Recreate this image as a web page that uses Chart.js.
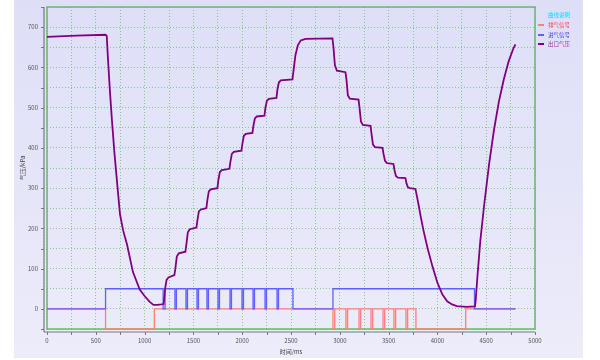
<!DOCTYPE html>
<html><head><meta charset="utf-8">
<script src="https://cdn.jsdelivr.net/npm/chart.js@4/dist/chart.umd.min.js"></script>
<style>
html,body{margin:0;padding:0;background:#fff;width:600px;height:360px;overflow:hidden}
#wrap{position:absolute;left:14px;top:0;width:569px;height:358px}
</style></head><body>
<div id="wrap"><canvas id="c" width="569" height="358"></canvas></div>
<script>
// ---- data ----
const seriesNames = ['排气信号', '进气信号', '出口气压'];
const legendTitle = '曲线说明';
const xTitle = '时间/ms';
const yTitle = '气压/kPa';

const pressT = [0, 300, 600, 612, 625, 645, 665, 690, 727, 748, 780, 820, 880, 950, 1000, 1050, 1090, 1130, 1170, 1195,
  1210, 1225, 1245, 1305,
  1315, 1330, 1350, 1418,
  1428, 1443, 1463, 1531,
  1541, 1556, 1576, 1633,
  1643, 1658, 1678, 1746,
  1756, 1771, 1791, 1869,
  1879, 1894, 1914, 1992,
  2002, 2017, 2037, 2105,
  2115, 2130, 2150, 2228,
  2238, 2253, 2273, 2351,
  2361, 2376, 2396, 2515,
  2525, 2545, 2570, 2600, 2650, 2925,
  2935, 2950, 2970, 3058,
  3068, 3083, 3103, 3192,
  3202, 3217, 3237, 3315,
  3325, 3340, 3360, 3438,
  3448, 3463, 3483, 3550,
  3560, 3575, 3595, 3673,
  3683, 3698, 3718, 3775,
  3790, 3810, 3830, 3860, 3900, 3950, 4000, 4050, 4100, 4150, 4200, 4300, 4385,
  4392, 4410, 4440, 4480, 4530, 4580, 4630, 4680, 4730, 4780, 4800];
const pressV = [676, 679, 681, 678, 620, 540, 470, 390, 290, 235, 195, 160, 92, 48, 32, 18, 10, 10, 11, 12,
  50, 72, 78, 84,
  100, 130, 138, 142,
  160, 190, 198, 202,
  220, 242, 247, 250,
  270, 292, 297, 300,
  320, 340, 345, 348,
  365, 385, 390, 393,
  410, 430, 435, 437,
  455, 473, 478, 480,
  500, 517, 522, 524,
  545, 563, 568, 570,
  590, 630, 655, 667, 671, 672,
  650, 605, 592, 588,
  570, 530, 522, 520,
  500, 465, 457, 455,
  435, 408, 402, 400,
  385, 368, 362, 360,
  345, 330, 326, 325,
  312, 302, 300, 298,
  280, 255, 228, 192, 150, 105, 65, 36, 19, 11, 7, 5, 6,
  20, 80, 170, 260, 360, 445, 515, 570, 615, 648, 657];

const intakeT = [0, 600, 1190, 1210, 1311, 1326, 1424, 1439, 1537, 1552, 1639, 1654, 1752, 1767, 1875, 1890,
  1998, 2013, 2111, 2126, 2234, 2249, 2357, 2372, 2520, 2930, 4380, 4800];
const intakeV = [0, 50, 0, 50, 0, 50, 0, 50, 0, 50, 0, 50, 0, 50, 0, 50,
  0, 50, 0, 50, 0, 50, 0, 50, 0, 50, 0, 0];

const exhaustT = [0, 600, 1100, 2930, 2948, 3063, 3080, 3197, 3214, 3320, 3337, 3443, 3460, 3555, 3572, 3678, 3695, 3780, 4290, 4800];
const exhaustV = [0, -50, 0, -50, 0, -50, 0, -50, 0, -50, 0, -50, 0, -50, 0, -50, 0, -50, 0, 0];

const xMin = 0, xMax = 5000, xStep = 250, xLabelStep = 500;
const yMin = -50, yMax = 750, yStep = 50, yLabelStep = 100;

// ---- build ----
const pts = (t, v) => t.map((x, i) => ({x, y: v[i]}));
const FONT = '"Noto Sans CJK SC", "Noto Sans", sans-serif';
const colors = ['rgb(255,125,125)', 'rgb(95,95,255)', 'rgb(128,0,128)'];

const bgPlugin = {
  id: 'bg',
  beforeDraw(chart) {
    const {ctx, width, height} = chart;
    const g = ctx.createLinearGradient(0, 0, 0, height);
    g.addColorStop(0, 'rgb(222,222,248)');
    g.addColorStop(1, 'rgb(236,236,250)');
    ctx.save(); ctx.fillStyle = g; ctx.fillRect(0, 0, width, height); ctx.restore();
  },
  beforeDatasetsDraw(chart) {
    const {ctx, chartArea: a, scales} = chart;
    ctx.save();
    ctx.strokeStyle = 'rgb(100,188,100)'; ctx.lineWidth = 1.5;
    ctx.strokeRect(a.left, a.top, a.right - a.left, a.bottom - a.top);
    ctx.strokeStyle = 'rgb(120,120,130)'; ctx.lineWidth = 1.2;
    ctx.beginPath();
    ctx.moveTo(a.left - 3, a.top); ctx.lineTo(a.left - 3, a.bottom + 3);
    ctx.moveTo(a.left - 3, a.bottom + 3); ctx.lineTo(a.right, a.bottom + 3);
    ctx.stroke();
    ctx.lineWidth = 1;
    ctx.beginPath();
    scales.y.ticks.forEach(t => { const y = Math.round(scales.y.getPixelForValue(t.value)) + 0.5; ctx.moveTo(a.left - 6, y); ctx.lineTo(a.left - 3, y); });
    scales.x.ticks.forEach(t => { const x = Math.round(scales.x.getPixelForValue(t.value)) + 0.5; ctx.moveTo(x, a.bottom + 3); ctx.lineTo(x, a.bottom + 6); });
    ctx.stroke();
    ctx.restore();
  },
  afterDraw(chart) {
    const {ctx} = chart;
    ctx.save();
    ctx.font = '5.5px ' + FONT;
    ctx.textBaseline = 'middle';
    ctx.fillStyle = 'rgb(0,225,250)';
    ctx.fillText(legendTitle, 534, 15);
    const ys = [25, 35, 44];
    const tcol = ['rgb(255,60,60)', 'rgb(60,60,255)', 'rgb(160,50,160)'];
    seriesNames.forEach((n, i) => {
      ctx.strokeStyle = colors[i]; ctx.lineWidth = 2;
      ctx.beginPath(); ctx.moveTo(524, ys[i]); ctx.lineTo(530, ys[i]); ctx.stroke();
      ctx.fillStyle = tcol[i];
      ctx.fillText(n, 534, ys[i]);
    });
    ctx.restore();
  }
};

new Chart(document.getElementById('c'), {
  type: 'scatter',
  data: {
    datasets: [
      {label: seriesNames[0], data: pts(exhaustT, exhaustV), showLine: true, stepped: true, borderColor: colors[0], borderWidth: 1.3, pointRadius: 0, order: 3},
      {label: seriesNames[1], data: pts(intakeT, intakeV), showLine: true, stepped: true, borderColor: colors[1], borderWidth: 1.3, pointRadius: 0, order: 2},
      {label: seriesNames[2], data: pts(pressT, pressV), showLine: true, borderColor: colors[2], borderWidth: 1.8, pointRadius: 0, tension: 0, order: 1}
    ]
  },
  options: {
    responsive: false, animation: false, devicePixelRatio: 1,
    layout: {padding: {left: 0, top: 7, right: 48, bottom: 0}},
    plugins: {legend: {display: false}, tooltip: {enabled: false}},
    scales: {
      x: {
        type: 'linear', min: xMin, max: xMax,
        afterFit(s) { s.height = 29; s.paddingLeft = 0; s.paddingRight = 0; },
        ticks: {stepSize: xStep, autoSkip: false, maxRotation: 0, padding: 8, color: '#555',
          font: {size: 6, family: FONT}, callback: v => (v % xLabelStep === 0 ? String(v) : '')},
        grid: {color: 'rgba(110,195,110,0.8)', lineWidth: 1, drawTicks: false},
        border: {display: false, dash: [1, 2]},
        title: {display: true, text: xTitle, color: '#444', font: {size: 6, family: FONT}, padding: {top: 0, bottom: 3}}
      },
      y: {
        type: 'linear', min: yMin, max: yMax,
        afterFit(s) { s.width = 33; s.paddingTop = 0; s.paddingBottom = 0; },
        ticks: {stepSize: yStep, autoSkip: false, padding: 9, color: '#555',
          font: {size: 6, family: FONT}, callback: v => (v % yLabelStep === 0 ? String(v) : '')},
        grid: {color: 'rgba(110,195,110,0.8)', lineWidth: 1, drawTicks: false},
        border: {display: false, dash: [1, 2]},
        title: {display: true, text: yTitle, color: '#444', font: {size: 6, family: FONT}, padding: {top: 5, bottom: 0}}
      }
    }
  },
  plugins: [bgPlugin]
});
</script>
</body></html>
